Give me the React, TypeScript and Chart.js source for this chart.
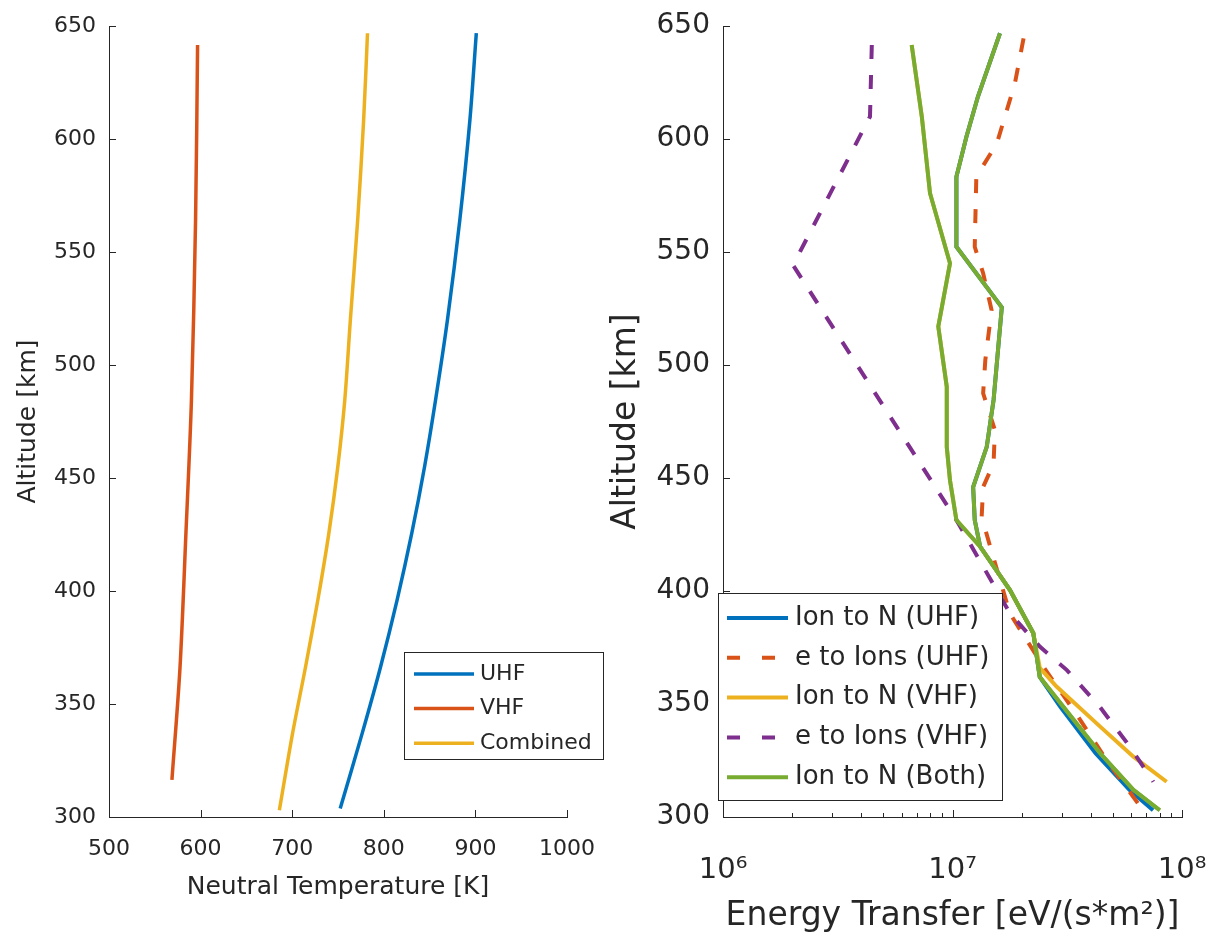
import React, { useEffect, useRef } from 'react';
import { Chart, registerables } from 'chart.js';

Chart.register(...registerables);

const FONT = "'DejaVu Sans', sans-serif";
const AX = '#262626';
const BLUE = '#0072BD';
const ORANGE = '#D95319';
const YELLOW = '#EDB120';
const PURPLE = '#7E2F8E';
const GREEN = '#77AC30';

// ---------- Left panel: neutral temperature vs altitude ----------
const ALT_TICKS = [300, 350, 400, 450, 500, 550, 600, 650];
const TEMP_TICKS = [500, 600, 700, 800, 900, 1000];

const UHF_T_ALT = [303.8, 337, 366.5, 396, 425.5, 455, 484.5, 520, 564.2, 608.4, 646.8];
const UHF_T = [752.4, 776.4, 796.5, 814.5, 830.5, 844.5, 856.5, 869.5, 883, 894, 901];

const VHF_T_ALT = [316.4, 366, 425.7, 484.5, 564, 641.6];
const VHF_T = [568.7, 577.5, 584, 590, 594.5, 596.7];

const COMB_T_ALT = [303, 337, 366.5, 396, 425.5, 455, 484.5, 520, 564.2, 608.4, 646.8];
const COMB_T = [686, 700.4, 714.6, 728, 740, 749.8, 757.4, 763.5, 771.5, 778, 782.2];

// ---------- Right panel: energy transfer vs altitude ----------
const E_TICKS = [1e6, 1e7, 1e8];
const E_TICK_LABELS = ['10\u2076', '10\u2077', '10\u2078'];

const ION_UHF_ALT = [646.8, 618.7, 601, 583.3, 552.3, 525.5, 484.5, 463.8, 446, 431.4, 419.6, 400.4, 381.3, 362, 348.8, 328.2, 312, 303];
const ION_UHF = [1.61e7, 1.29e7, 1.15e7, 1.04e7, 1.04e7, 1.64e7, 1.51e7, 1.41e7, 1.23e7, 1.25e7, 1.32e7, 1.78e7, 2.25e7, 2.4e7, 2.95e7, 4.2e7, 5.9e7, 7.48e7];

const E_UHF_ALT = [644.5, 624.6, 598, 583.3, 552.3, 540.6, 524.3, 502.2, 487.5, 471.2, 456.5, 446, 432.9, 419.6, 390, 366.5, 343, 325, 303];
const E_UHF = [2.04e7, 1.87e7, 1.56e7, 1.27e7, 1.25e7, 1.36e7, 1.48e7, 1.39e7, 1.36e7, 1.53e7, 1.51e7, 1.36e7, 1.34e7, 1.46e7, 1.78e7, 2.49e7, 3.6e7, 4.7e7, 6.76e7];

const ION_VHF_ALT = [641.6, 609.9, 576, 545, 517, 490.4, 463.8, 449, 431.4, 419.6, 400.4, 381.3, 366, 357.7, 340, 326.7, 315.6];
const ION_VHF = [6.64e6, 7.35e6, 7.98e6, 9.75e6, 8.67e6, 9.44e6, 9.44e6, 9.75e6, 1.04e7, 1.32e7, 1.78e7, 2.25e7, 2.4e7, 2.84e7, 4.4e7, 6.14e7, 8.57e7];

const E_VHF_ALT = [641.6, 609.9, 544.2, 431.4, 413.7, 390.1, 375.4, 365, 348.8, 331.1, 315.6];
const E_VHF = [4.45e6, 4.37e6, 2.02e6, 1.04e7, 1.31e7, 1.78e7, 2.4e7, 3.15e7, 4.38e7, 5.93e7, 7.5e7];

const ION_BOTH_A_ALT = [646.8, 618.7, 601, 583.3, 552.3, 525.5, 484.5, 463.8, 446, 431.4, 419.6, 400.4, 381.3, 362, 348.8, 328.2, 312, 303];
const ION_BOTH_A = [1.61e7, 1.29e7, 1.15e7, 1.04e7, 1.04e7, 1.64e7, 1.51e7, 1.41e7, 1.23e7, 1.25e7, 1.32e7, 1.78e7, 2.25e7, 2.4e7, 3.04e7, 4.4e7, 6.14e7, 8.0e7];
const ION_BOTH_B_ALT = [641.6, 609.9, 576, 545, 517, 490.4, 463.8, 449, 431.4, 419.6, 400.4, 381.3, 362, 348.8, 328.2, 312, 303];
const ION_BOTH_B = [6.64e6, 7.35e6, 7.98e6, 9.75e6, 8.67e6, 9.44e6, 9.44e6, 9.75e6, 1.04e7, 1.32e7, 1.78e7, 2.25e7, 2.4e7, 3.04e7, 4.4e7, 6.14e7, 8.0e7];

const pts = (xs: number[], ys: number[]) => xs.map((x, i) => ({ x, y: ys[i] }));

// Inward tick marks (MATLAB style) + log minor ticks
const innerTicks = {
  id: 'innerTicks',
  afterDraw(chart: any, _a: any, opts: any) {
    const { ctx, chartArea: ca } = chart;
    const xs = chart.scales.x;
    const ys = chart.scales.y;
    const len = opts.len || 7;
    ctx.save();
    ctx.strokeStyle = AX;
    ctx.lineWidth = 1;
    ctx.beginPath();
    xs.ticks.forEach((t: any) => {
      const p = Math.round(xs.getPixelForValue(t.value)) + 0.5;
      ctx.moveTo(p, ca.bottom);
      ctx.lineTo(p, ca.bottom - len);
    });
    ys.ticks.forEach((t: any) => {
      const p = Math.round(ys.getPixelForValue(t.value)) + 0.5;
      ctx.moveTo(ca.left, p);
      ctx.lineTo(ca.left + len, p);
    });
    if (opts.logMinor) {
      for (let d = xs.min; d < xs.max * 0.999; d *= 10) {
        for (let k = 2; k < 10; k++) {
          const p = Math.round(xs.getPixelForValue(k * d)) + 0.5;
          ctx.moveTo(p, ca.bottom);
          ctx.lineTo(p, ca.bottom - (opts.minorLen || 4));
        }
      }
    }
    ctx.stroke();
    ctx.restore();
  },
};

// Boxed legend placed inside the axes
const boxLegend = {
  id: 'boxLegend',
  afterDraw(chart: any, _a: any, o: any) {
    if (!o || !o.items) return;
    const ctx = chart.ctx;
    ctx.save();
    ctx.fillStyle = '#ffffff';
    ctx.fillRect(o.x, o.y, o.w, o.h);
    ctx.strokeStyle = AX;
    ctx.lineWidth = 1;
    ctx.strokeRect(o.x + 0.5, o.y + 0.5, o.w, o.h);
    const items: number[] = o.items;
    items.forEach((di, i) => {
      const ds = chart.data.datasets[di];
      const yy = o.firstY + i * o.rowH;
      ctx.strokeStyle = ds.borderColor;
      ctx.lineWidth = ds.borderWidth;
      ctx.setLineDash(ds.borderDash ? o.dash : []);
      ctx.beginPath();
      ctx.moveTo(o.lineX0, yy);
      ctx.lineTo(o.lineX1, yy);
      ctx.stroke();
      ctx.setLineDash([]);
      ctx.fillStyle = AX;
      ctx.font = `${o.size}px ${FONT}`;
      ctx.textBaseline = 'middle';
      ctx.textAlign = 'left';
      ctx.fillText(ds.label, o.textX, yy);
    });
    ctx.restore();
  },
};

function axisCommon() {
  return {
    grid: { display: true, drawOnChartArea: false, drawTicks: false },
    border: { display: true, color: AX, width: 1 },
  };
}

const fitX = (h: number) => (s: any) => {
  s.height = h;
  s.paddingLeft = 0;
  s.paddingRight = 0;
  s.paddingTop = 0;
  s.paddingBottom = 0;
};
const fitY = (w: number) => (s: any) => {
  s.width = w;
  s.paddingLeft = 0;
  s.paddingRight = 0;
  s.paddingTop = 0;
  s.paddingBottom = 0;
};

function leftConfig(): any {
  const line = (label: string, d: any, color: string, order: number) => ({
    label, data: d, borderColor: color, backgroundColor: color, borderWidth: 3.5,
    showLine: true, pointRadius: 0, tension: 0.3, order, fill: false,
  });
  return {
    type: 'scatter',
    data: {
      datasets: [
        line('UHF', pts(UHF_T, UHF_T_ALT), BLUE, 3),
        line('VHF', pts(VHF_T, VHF_T_ALT), ORANGE, 2),
        line('Combined', pts(COMB_T, COMB_T_ALT), YELLOW, 1),
      ],
    },
    plugins: [innerTicks, boxLegend],
    options: {
      animation: false,
      responsive: false,
      devicePixelRatio: 1,
      events: [],
      layout: { padding: { left: 0, right: 42, top: 26, bottom: 0 } },
      plugins: {
        legend: { display: false },
        tooltip: { enabled: false },
        innerTicks: { len: 7 },
        boxLegend: {
          items: [0, 1, 2], x: 404, y: 652, w: 199, h: 107,
          firstY: 674, rowH: 34.6, lineX0: 414, lineX1: 474, textX: 480, size: 22, dash: [],
        },
      },
      scales: {
        x: {
          type: 'linear', min: 500, max: 1000, ...axisCommon(),
          afterFit: fitX(124),
          afterBuildTicks: (s: any) => { s.ticks = TEMP_TICKS.map((v) => ({ value: v })); },
          ticks: {
            color: AX, font: { family: FONT, size: 22 }, padding: 19, maxRotation: 0, autoSkip: false,
            callback: (v: any) => String(v),
          },
          title: { display: true, text: 'Neutral Temperature [K]', color: AX, font: { family: FONT, size: 25 }, padding: { top: 0, bottom: 39 } },
        },
        y: {
          type: 'linear', min: 300, max: 650, ...axisCommon(),
          afterFit: fitY(109),
          afterBuildTicks: (s: any) => { s.ticks = ALT_TICKS.map((v) => ({ value: v })); },
          ticks: { color: AX, font: { family: FONT, size: 22 }, padding: 13, autoSkip: false, callback: (v: any) => String(v) },
          title: { display: true, text: 'Altitude [km]', color: AX, font: { family: FONT, size: 25 }, padding: { top: 13, bottom: 0 } },
        },
      },
    },
  };
}

function rightConfig(): any {
  const line = (label: string, d: any, color: string, order: number, dashed: boolean) => ({
    label, data: d, borderColor: color, backgroundColor: color, borderWidth: 4,
    borderDash: dashed ? [14, 16] : undefined, borderCapStyle: 'butt',
    showLine: true, pointRadius: 0, tension: 0, order, fill: false,
  });
  return {
    type: 'scatter',
    data: {
      datasets: [
        line('Ion to N (UHF)', pts(ION_UHF, ION_UHF_ALT), BLUE, 6, false),
        line('e to Ions (UHF)', pts(E_UHF, E_UHF_ALT), ORANGE, 5, true),
        line('Ion to N (VHF)', pts(ION_VHF, ION_VHF_ALT), YELLOW, 4, false),
        line('e to Ions (VHF)', pts(E_VHF, E_VHF_ALT), PURPLE, 3, true),
        line('Ion to N (Both)', pts(ION_BOTH_A, ION_BOTH_A_ALT), GREEN, 2, false),
        line('Ion to N (Both)', pts(ION_BOTH_B, ION_BOTH_B_ALT), GREEN, 1, false),
      ],
    },
    plugins: [innerTicks, boxLegend],
    options: {
      animation: false,
      responsive: false,
      devicePixelRatio: 1,
      events: [],
      layout: { padding: { left: 0, right: 36, top: 26, bottom: 0 } },
      plugins: {
        legend: { display: false },
        tooltip: { enabled: false },
        innerTicks: { len: 7, logMinor: true, minorLen: 4 },
        boxLegend: {
          items: [0, 1, 2, 3, 4], x: 118, y: 593, w: 284, h: 207,
          firstY: 618, rowH: 39.8, lineX0: 127, lineX1: 188, textX: 195, size: 26, dash: [13, 22],
        },
      },
      scales: {
        x: {
          type: 'logarithmic', min: 1e6, max: 1e8, ...axisCommon(),
          afterFit: fitX(124),
          afterBuildTicks: (s: any) => { s.ticks = E_TICKS.map((v) => ({ value: v, major: true })); },
          ticks: {
            color: AX, font: { family: FONT, size: 29 }, padding: 36, maxRotation: 0, autoSkip: false,
            callback: (_v: any, i: number) => E_TICK_LABELS[i],
          },
          title: { display: true, text: 'Energy Transfer [eV/(s*m\u00B2)]', color: AX, font: { family: FONT, size: 33 }, padding: { top: 0, bottom: 5 } },
        },
        y: {
          type: 'linear', min: 300, max: 650, ...axisCommon(),
          afterFit: fitY(123),
          afterBuildTicks: (s: any) => { s.ticks = ALT_TICKS.map((v) => ({ value: v })); },
          ticks: { color: AX, font: { family: FONT, size: 28 }, padding: 13, autoSkip: false, callback: (v: any) => String(v) },
          title: { display: true, text: 'Altitude [km]', color: AX, font: { family: FONT, size: 33 }, padding: { top: 7, bottom: 0 } },
        },
      },
    },
  };
}

function ChartCanvas({ make, left, width }: { make: () => any; left: number; width: number }) {
  const ref = useRef<HTMLCanvasElement | null>(null);
  useEffect(() => {
    if (!ref.current) return;
    const chart = new Chart(ref.current, make());
    return () => chart.destroy();
  }, [make]);
  return (
    <canvas
      ref={ref}
      width={width}
      height={941}
      style={{ position: 'absolute', left, top: 0, width, height: 941 }}
    />
  );
}

export default function App() {
  return (
    <div style={{ position: 'absolute', left: 0, top: 0, width: 1218, height: 941, background: '#ffffff' }}>
      <ChartCanvas make={leftConfig} left={0} width={609} />
      <ChartCanvas make={rightConfig} left={600} width={618} />
    </div>
  );
}
